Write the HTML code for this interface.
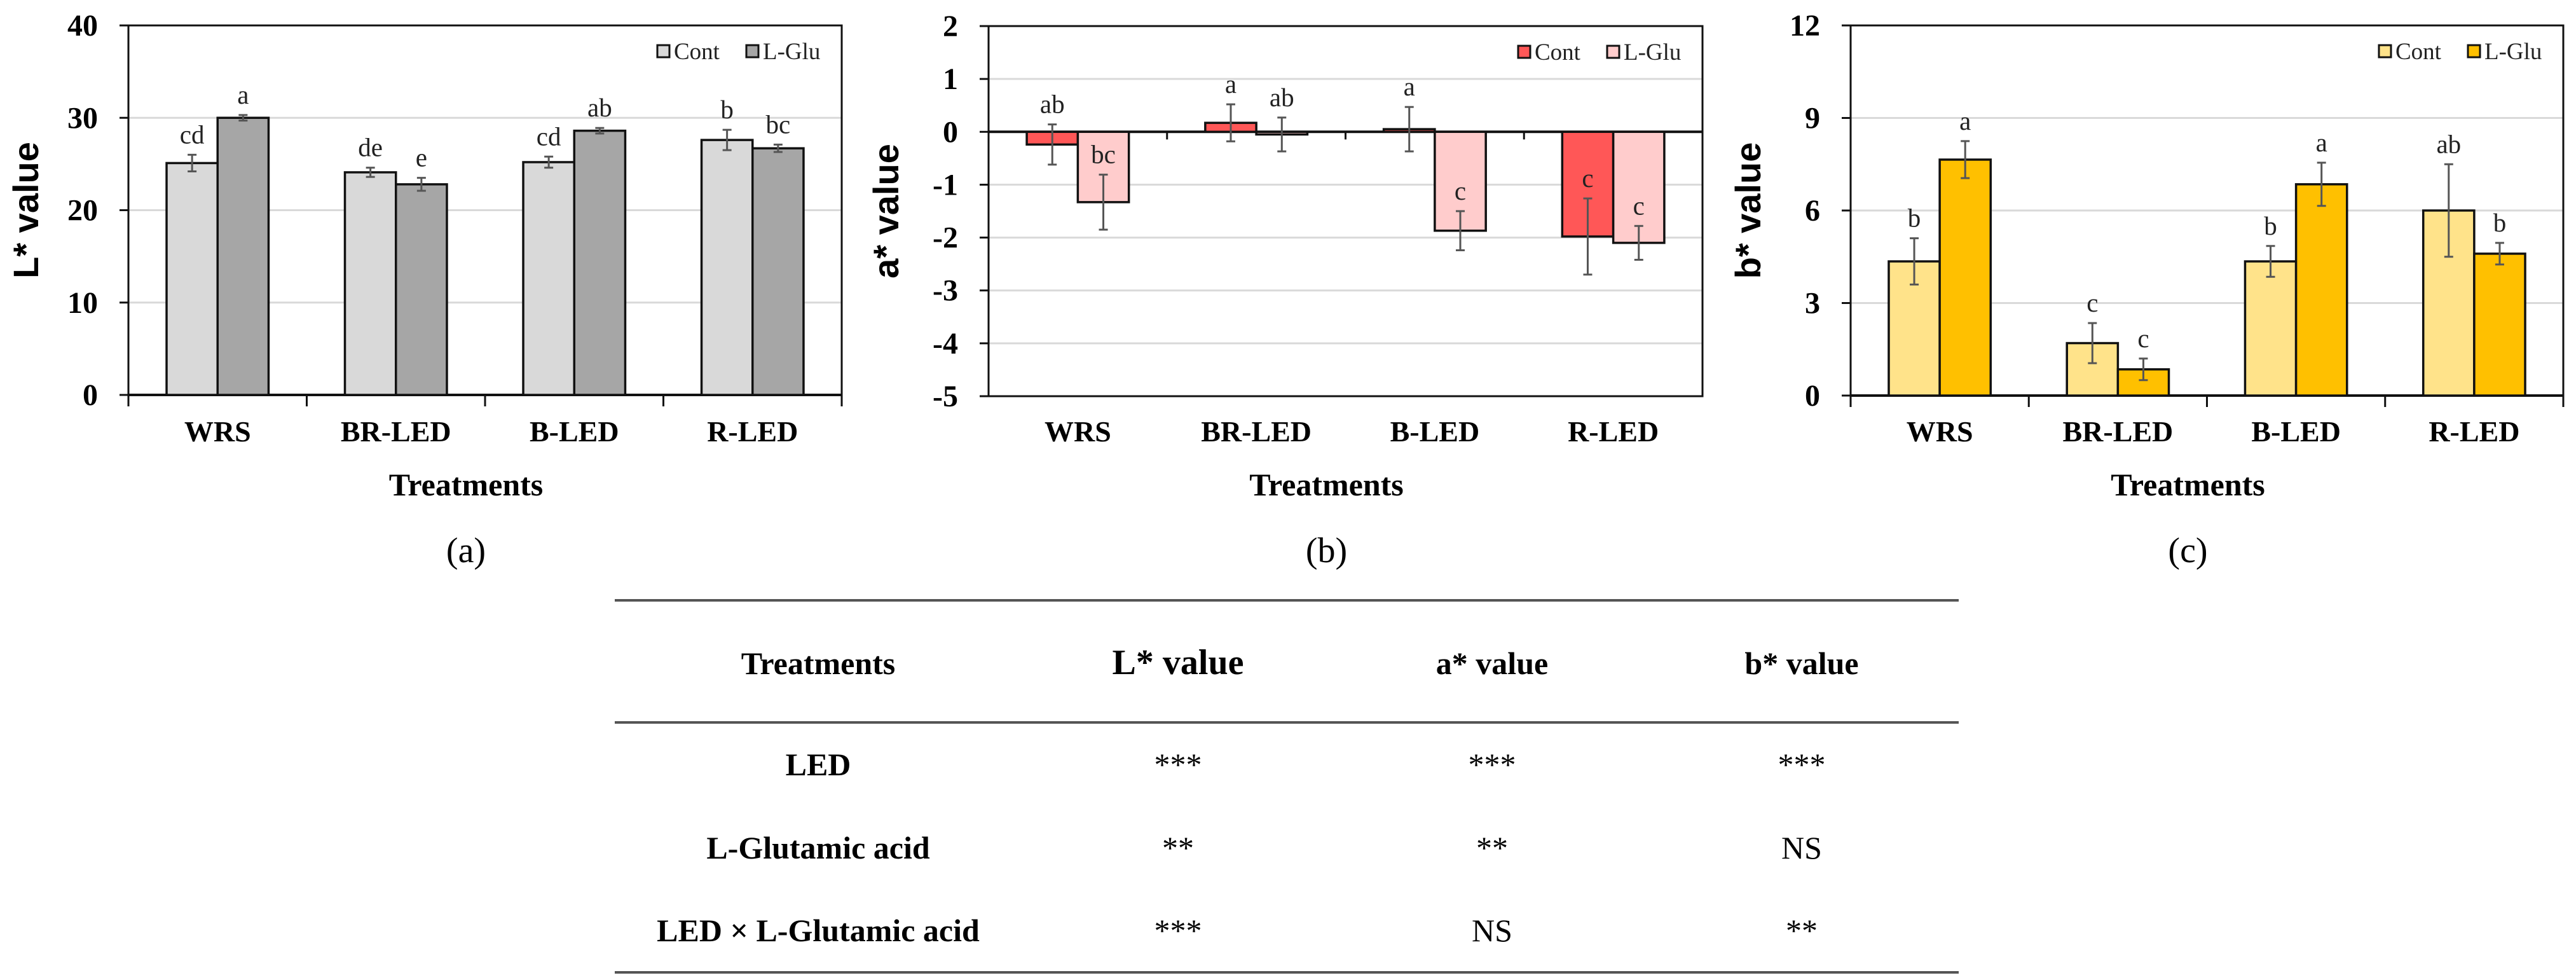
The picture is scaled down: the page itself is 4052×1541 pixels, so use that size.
<!DOCTYPE html>
<html><head><meta charset="utf-8">
<style>
html,body{margin:0;padding:0;background:#fff;}
svg{display:block;}
text{font-family:"Liberation Serif","Times New Roman",serif;}
</style></head>
<body>
<svg id="fig" xmlns="http://www.w3.org/2000/svg" width="4052" height="1541" viewBox="0 0 4052 1541">
<rect width="4052" height="1541" fill="#fff"/>
<g id="table">
  <line x1="967" y1="944" x2="3081" y2="944" stroke="#555" stroke-width="4"/>
  <line x1="967" y1="1136" x2="3081" y2="1136" stroke="#555" stroke-width="4"/>
  <line x1="967" y1="1529" x2="3081" y2="1529" stroke="#555" stroke-width="4"/>
  <g font-weight="bold" font-size="50" text-anchor="middle">
    <text x="1287" y="1060">Treatments</text>
    <text x="1853" y="1060" font-size="56">L* value</text>
    <text x="2347" y="1060">a* value</text>
    <text x="2834" y="1060">b* value</text>
    <text x="1287" y="1219">LED</text>
    <text x="1287" y="1350">L-Glutamic acid</text>
    <text x="1287" y="1480">LED × L-Glutamic acid</text>
  </g>
  <g font-size="50" text-anchor="middle">
    <text x="1853" y="1219">***</text>
    <text x="2347" y="1219">***</text>
    <text x="2834" y="1219">***</text>
    <text x="1853" y="1350">**</text>
    <text x="2347" y="1350">**</text>
    <text x="2834" y="1350">NS</text>
    <text x="1853" y="1480">***</text>
    <text x="2347" y="1480">NS</text>
    <text x="2834" y="1480">**</text>
  </g>
</g>
</svg>
<script>
const categories = ["WRS","BR-LED","B-LED","R-LED"];
const seriesNames = ["Cont","L-Glu"];
// Panel (a) L*
const lCont = [25.1, 24.1, 25.2, 27.6];
const lGlu  = [30.0, 22.8, 28.6, 26.7];
const lContErr = [0.9, 0.5, 0.6, 1.1];
const lGluErr  = [0.3, 0.7, 0.3, 0.4];
const lContLetters = ["cd","de","cd","b"];
const lGluLetters  = ["a","e","ab","bc"];
const lTicks = [0,10,20,30,40];
// Panel (b) a*
const aCont = [-0.24, 0.17, 0.05, -1.98];
const aGlu  = [-1.33, -0.05, -1.87, -2.1];
const aContErr = [0.38, 0.35, 0.42, 0.72];
const aGluErr  = [0.52, 0.32, 0.37, 0.32];
const aContLetters = ["ab","a","a","c"];
const aGluLetters  = ["bc","ab","c","c"];
const aTicks = [-5,-4,-3,-2,-1,0,1,2];
// Panel (c) b*
const bCont = [4.35, 1.7, 4.35, 6.0];
const bGlu  = [7.65, 0.85, 6.85, 4.6];
const bContErr = [0.75, 0.65, 0.5, 1.5];
const bGluErr  = [0.6, 0.35, 0.7, 0.35];
const bContLetters = ["b","c","b","ab"];
const bGluLetters  = ["a","c","a","b"];
const bTicks = [0,3,6,9,12];

const NS = "http://www.w3.org/2000/svg";
const svg = document.getElementById("fig");
function mk(tag, attrs, parent){
  const e = document.createElementNS(NS, tag);
  for (const k in attrs) e.setAttribute(k, attrs[k]);
  parent.appendChild(e);
  return e;
}

function panel(o){
  const g = mk("g", {}, svg);
  
  
  const L=o.left, R=o.right, T=o.top, B=o.bottom;
  const yMin=o.ticks[0], yMax=o.ticks[o.ticks.length-1];
  const y = v => B - (v - yMin)/(yMax - yMin)*(B - T);
  const groupW = (R-L)/categories.length;
  const barW = groupW*0.286;
  const x0 = i => L + i*groupW + groupW/2 - barW;
  o.ticks.forEach(t=>{
    if (t!==yMin && t!==yMax && t!==0){
      const gl = mk("line",{x1:L,x2:R,y1:y(t),y2:y(t),stroke:"#d9d9d9","stroke-width":3},g);
      
      
    }
  });
  const box = mk("rect",{x:L,y:T,width:R-L,height:B-T,fill:"none",stroke:"#111","stroke-width":3},g);
  
  
  o.ticks.forEach(t=>{
    mk("line",{x1:L-14,x2:L,y1:y(t),y2:y(t),stroke:"#111","stroke-width":3},g);
    const tl = mk("text",{x:L-48,y:y(t)+16,"text-anchor":"end","font-size":48,"font-weight":"bold"},g);
    tl.textContent = t;
    
    
  });
  const zy = y(0);
  mk("line",{x1:L,x2:R,y1:zy,y2:zy,stroke:"#111","stroke-width":4},g);
  for (let i=0;i<=categories.length;i++){
    const tx = L + i*groupW;
    mk("line",{x1:tx,x2:tx,y1:zy,y2:zy+(o.zeroInside?12:18),stroke:"#111","stroke-width":3},g);
  }
  const series = [[o.cont,o.contErr,o.contLet,o.c1],[o.glu,o.gluErr,o.gluLet,o.c2]];
  series.forEach((s,si)=>{
    s[0].forEach((v,i)=>{
      const bx = x0(i) + si*barW;
      const top = Math.min(y(v), zy), h = Math.abs(y(v)-zy);
      const r = mk("rect",{x:bx,y:top,width:barW,height:Math.max(h,2),fill:s[3],stroke:"#111","stroke-width":3.5},g);
      
      
      const cx = bx + barW/2;
      const e = s[1][i];
      const eg = mk("g",{stroke:"#555","stroke-width":3},g);
      
      
      mk("line",{x1:cx,x2:cx,y1:y(v+e),y2:y(v-e)},eg);
      mk("line",{x1:cx-7,x2:cx+7,y1:y(v+e),y2:y(v+e)},eg);
      mk("line",{x1:cx-7,x2:cx+7,y1:y(v-e),y2:y(v-e)},eg);
      const lt = mk("text",{x:cx,y:y(v+e)-18,"text-anchor":"middle","font-size":41,fill:"#222"},g);
      lt.textContent = s[2][i];
      
      
    });
  });
  categories.forEach((c,i)=>{
    const t = mk("text",{x:L+i*groupW+groupW/2,y:694,"text-anchor":"middle","font-size":46,"font-weight":"bold"},g);
    t.textContent = c;
    
    
  });
  const xt = mk("text",{x:(L+R)/2-30,y:779,"text-anchor":"middle","font-size":50,"font-weight":"bold"},g);
  xt.textContent = "Treatments";
  
  
  const yc = (T+B)/2;
  const yt = mk("text",{x:L-142,y:yc,"text-anchor":"middle","font-size":56,"font-weight":"bold",
    transform:`rotate(-90 ${L-142} ${yc})`,style:'font-family:"Liberation Sans",Arial,sans-serif'},g);
  yt.textContent = o.ytitle;
  
  
  const pl = mk("text",{x:(L+R)/2-30,y:884,"text-anchor":"middle","font-size":56},g);
  pl.textContent = o.label;
  
  
  [[o.c1,seriesNames[0],R-290],[o.c2,seriesNames[1],R-150]].forEach(([c,n,lx])=>{
    const lg = mk("g",{},g);
    
    
    mk("rect",{x:lx,y:T+31,width:19,height:19,fill:c,stroke:"#111","stroke-width":3},lg);
    const lt = mk("text",{x:lx+26,y:T+53,"font-size":37,fill:"#222"},lg);
    lt.textContent = n;
  });
}

panel({name:"chart-l-value",left:202,right:1324,top:40,bottom:621,ticks:lTicks,
  cont:lCont,glu:lGlu,contErr:lContErr,gluErr:lGluErr,contLet:lContLetters,gluLet:lGluLetters,
  c1:"#d9d9d9",c2:"#a6a6a6",ytitle:"L* value",label:"(a)"});
panel({name:"chart-a-value",left:1555,right:2678,top:41,bottom:623,ticks:aTicks,zeroInside:true,
  cont:aCont,glu:aGlu,contErr:aContErr,gluErr:aGluErr,contLet:aContLetters,gluLet:aGluLetters,
  c1:"#ff5757",c2:"#ffcccc",ytitle:"a* value",label:"(b)"});
panel({name:"chart-b-value",left:2911,right:4032,top:40,bottom:622,ticks:bTicks,
  cont:bCont,glu:bGlu,contErr:bContErr,gluErr:bGluErr,contLet:bContLetters,gluLet:bGluLetters,
  c1:"#ffe38a",c2:"#ffc000",ytitle:"b* value",label:"(c)"});
</script>
</body></html>
